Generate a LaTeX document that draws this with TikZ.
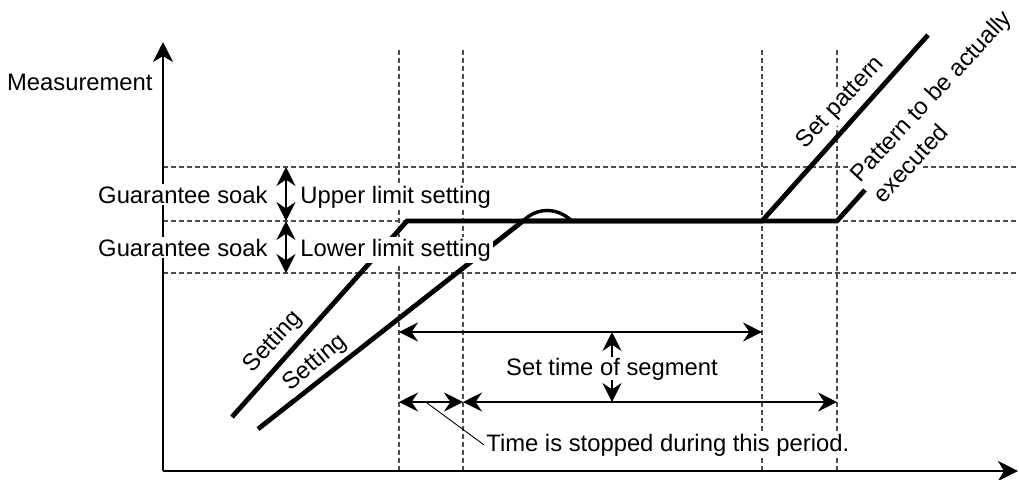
\documentclass[tikz,border=0pt]{standalone}
\usepackage{fontspec}
\setmainfont{Liberation Sans}
\usetikzlibrary{arrows.meta}
\begin{document}
\begin{tikzpicture}[x=0.5pt,y=-0.5pt,
  every node/.style={font=\fontsize{11.9pt}{15.5pt}\selectfont, inner sep=1pt},
  lbl/.style={fill=white},
  grid/.style={draw=black!70, line width=0.55pt, dash pattern=on 2.5pt off 1.5pt},
  axis/.style={line width=1.4pt, -{Stealth[length=10pt,width=10pt,inset=3pt]}},
  pat/.style={line width=2.4pt, line join=miter},
  bump/.style={line width=1.7pt},
  tip/.style={Stealth[length=9.5pt,width=9.5pt,inset=3.2pt]},
  dim/.style={line width=1.2pt, {Stealth[length=9.5pt,width=9.5pt,inset=3.2pt]}-{Stealth[length=9.5pt,width=9.5pt,inset=3.2pt]}},
  sarr/.style={line width=1.2pt, -{Stealth[length=9.5pt,width=9.5pt,inset=3.2pt]}},
  leader/.style={line width=0.45pt}]
\useasboundingbox (0,0) rectangle (1019,479);
% coordinates
\coordinate (O) at (163,471);
\coordinate (ytip) at (163,42);
\coordinate (xtip) at (1018,471);
\coordinate (hu0) at (163,167); \coordinate (hu1) at (1017,167);
\coordinate (hm0) at (163,221); \coordinate (hm1) at (1017,221);
\coordinate (hl0) at (163,273); \coordinate (hl1) at (1017,273);
\coordinate (va0) at (399,50); \coordinate (va1) at (399,471);
\coordinate (vb0) at (463,50); \coordinate (vb1) at (463,471);
\coordinate (vc0) at (762,50); \coordinate (vc1) at (762,471);
\coordinate (vd0) at (837,50); \coordinate (vd1) at (837,471);
% grid
\draw[grid] (hu0) -- (hu1);
\draw[grid] (hm0) -- (hm1);
\draw[grid] (hl0) -- (hl1);
\draw[grid] (va0) -- (va1);
\draw[grid] (vb0) -- (vb1);
\draw[grid] (vc0) -- (vc1);
\draw[grid] (vd0) -- (vd1);
% axes
\draw[axis] (O) -- (ytip);
\draw[axis] (O) -- (xtip);
% patterns
\coordinate (s0) at (232,417); \coordinate (s1) at (407,221);
\coordinate (s2) at (762,221); \coordinate (s3) at (928,35);
\coordinate (a0) at (258,429); \coordinate (a1) at (523,221);
\coordinate (a2) at (837,221); \coordinate (a3) at (998,42);
\coordinate (b1) at (572,221);
\draw[pat] (s0) -- (s1) -- (s2) -- (s3);
\draw[pat] (a0) -- (a1) -- (a2) -- (a3);
\draw[bump] (a1) .. controls (537,207) and (557,207) .. (b1);
% guarantee soak arrows
\coordinate (g0) at (286,167); \coordinate (g1) at (286,221); \coordinate (g2) at (286,273);
\draw[dim] (g0) -- (g1);
\draw[dim] (g1) -- (g2);
% time arrows
\coordinate (t0) at (399,332); \coordinate (t1) at (762,332);
\coordinate (u0) at (399,402); \coordinate (u1) at (463,402); \coordinate (u2) at (837,402);
\coordinate (m0) at (612,332); \coordinate (m1) at (612,402);
\draw[dim] (t0) -- (t1);
\draw[dim] (u0) -- (u1);
\draw[dim] (u1) -- (u2);
% labels
\node[anchor=base east] (meas) at (155,90) {Measurement};
\node[lbl, anchor=base east] (gs1) at (270,203) {Guarantee soak};
\node[lbl, anchor=base east] (gs2) at (270,256) {Guarantee soak};
\node[lbl, anchor=base west] (ul) at (298,203) {Upper limit setting};
\node[lbl, anchor=base west] (ll) at (298,256) {Lower limit setting};
\node[lbl, rotate=47] (set1) at (273,342) {Setting};
\node[lbl, rotate=40] (set2) at (315,363) {Setting};
\node[lbl, rotate=47] (sp) at (841,103) {Set pattern};
\node[lbl, rotate=47, align=left] (ap) at (942,106) {Pattern to be actually\\executed};
\node[lbl, anchor=base, inner sep=0pt] (seg) at (612,375) {Set time of segment};
\draw[sarr] (seg.north) -- (m0);
\draw[sarr] (seg.south) -- (m1);
\node[lbl, anchor=base west] (stop) at (484,451) {Time is stopped during this period.};
\coordinate (lead) at (427,403);
\draw[leader] (lead) -- (stop.west);
\end{tikzpicture}
\end{document}
